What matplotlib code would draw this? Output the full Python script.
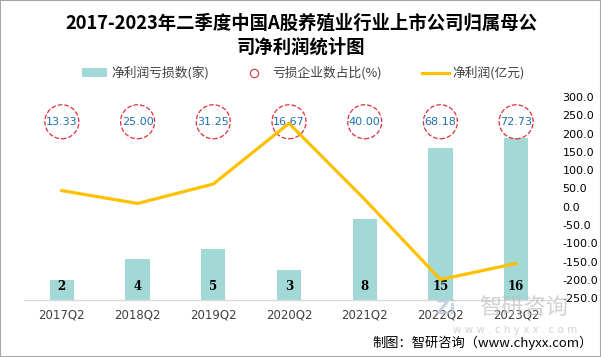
import matplotlib
matplotlib.use("Agg")
import matplotlib.pyplot as plt
import numpy as np

plt.rcParams['font.family'] = ['Noto Sans CJK SC', 'DejaVu Sans']

categories = ["2017Q2", "2018Q2", "2019Q2", "2020Q2", "2021Q2", "2022Q2", "2023Q2"]
loss_count = [2, 4, 5, 3, 8, 15, 16]
loss_ratio = [13.33, 25.00, 31.25, 16.67, 40.00, 68.18, 72.73]
net_profit = [44, 9, 62, 228, 20, -199, -155]
right_ticks = [300, 250, 200, 150, 100, 50, 0, -50, -100, -150, -200, -250]

fig = plt.figure(figsize=(6.01, 3.57), dpi=100)
fig.patch.set_facecolor('white')
fig.add_artist(plt.Rectangle((0, 0), 1, 1, transform=fig.transFigure, fill=False,
                             edgecolor='#A6A6A6', linewidth=1.5))

ax = fig.add_axes([24/601, 1-300/357, (554-24)/601, (300-97)/357])
x = np.arange(len(categories))
bar_color = '#A2D8D5'
ax.bar(x, loss_count, width=0.32, color=bar_color, zorder=2)
ax.set_ylim(0, 20)
ax.set_xlim(-0.5, len(categories)-0.5)
for sp in ['top', 'right', 'left']:
    ax.spines[sp].set_visible(False)
ax.spines['bottom'].set_color('#D9D9D9')
ax.spines['bottom'].set_linewidth(1)
ax.set_yticks([])
ax.set_xticks(x)
ax.set_xticklabels(categories, fontsize=8.5, color='#404040', family=['DejaVu Sans'])
ax.tick_params(axis='x', length=0, pad=6)
for xi, v in zip(x, loss_count):
    ax.text(xi, 1.3, str(v), ha='center', va='center', fontsize=8.5,
            fontweight='bold', color='#000000', family=['DejaVu Serif'], zorder=5)

ax2 = ax.twinx()
ax2.set_ylim(-255, 300)
ax2.plot(x, net_profit, color='#FFC000', linewidth=2.3, zorder=3, solid_joinstyle='miter')
ax2.set_yticks(right_ticks)
ax2.set_yticklabels([f"{t:.1f}" for t in right_ticks], fontsize=8, color='#000000',
                    family=['DejaVu Sans'])
ax2.tick_params(axis='y', length=0, pad=6)
for sp in ['top', 'right', 'left', 'bottom']:
    ax2.spines[sp].set_visible(False)

trans = ax.get_xaxis_transform()
ax.scatter(x, [0.878]*len(x), s=600, facecolors='none', edgecolors='#E0303A',
           linestyles='--', linewidths=0.9, transform=trans, zorder=4, clip_on=False)
for xi, r in zip(x, loss_ratio):
    ax.text(xi, 0.878, f"{r:.2f}", transform=trans, ha='center', va='center',
            fontsize=8, color='#1F6FB2', family=['DejaVu Sans'], zorder=5)

fig.text(301/601, 1-23/357, "2017-2023年二季度中国A股养殖业行业上市公司归属母公", ha='center',
         va='center', fontsize=13.2, fontweight='bold', color='#000000')
fig.text(301/601, 1-47/357, "司净利润统计图", ha='center', va='center', fontsize=13.2,
         fontweight='bold', color='#000000')

# legend
ly = 1-73/357
fig.add_artist(plt.Rectangle((82/601, ly-4.5/357), 25/601, 9/357, transform=fig.transFigure,
                             facecolor=bar_color, edgecolor='none'))
fig.text(111/601, ly, "净利润亏损数(家)", va='center', ha='left', fontsize=9.2, color='#404040')
fig.lines.append(plt.Line2D([254/601], [ly], transform=fig.transFigure, marker='o',
                            markersize=6, markerfacecolor='none', markeredgecolor='#E0303A',
                            markeredgewidth=0.8, linestyle='none'))
fig.text(272/601, ly, "亏损企业数占比(%)", va='center', ha='left', fontsize=9.2, color='#404040')
fig.add_artist(plt.Line2D([422/601, 449/601], [ly, ly], transform=fig.transFigure,
                          color='#FFC000', linewidth=2.3))
fig.text(452/601, ly, "净利润(亿元)", va='center', ha='left', fontsize=9.2, color='#404040')

# watermark
fig.text(524/601, 1-308/357, "智研咨询", ha='center', va='center', fontsize=16,
         color='#BFBFBF', alpha=0.7, zorder=0)
fig.text(446/601, 1-308/357, "Zi", ha='center', va='center', fontsize=14,
         fontweight='bold', color='#B4C4D8', alpha=0.7, zorder=0, family=['DejaVu Sans'])
fig.text(515/601, 1-330/357, "w w w . c h y x x . c o m", ha='center', va='center',
         fontsize=7.5, color='#C8C8C8', alpha=0.8, family=['DejaVu Sans'])

fig.text(593/601, 1-343/357, "制图：智研咨询（www.chyxx.com）", ha='right', va='center',
         fontsize=9.5, color='#000000')

fig.savefig("out.png", dpi=100)
